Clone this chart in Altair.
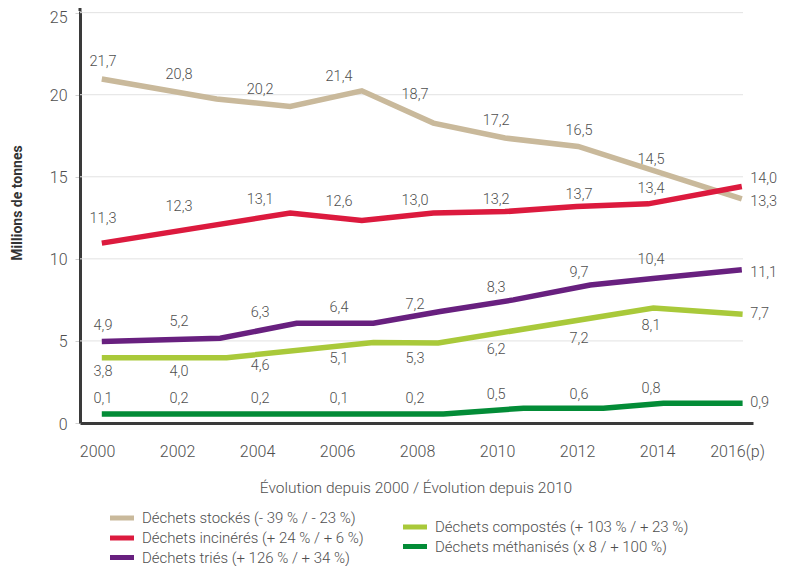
import altair as alt
import pandas as pd

# ---------------- data ----------------
series = [
    "Déchets stockés (- 39 % / - 23 %)",
    "Déchets incinérés (+ 24 % / + 6 %)",
    "Déchets triés (+ 126 % / + 34 %)",
    "Déchets compostés (+ 103 % / + 23 %)",
    "Déchets méthanisés (x 8 / + 100 %)",
]
colors = ["#c9b99b", "#dc1a3e", "#68207f", "#a9c93a", "#038c37"]

# line vertices (x in years, y in millions of tonnes)
stockes_x = [2000.12, 2002.99, 2004.83, 2006.62, 2008.41, 2010.2, 2012.03, 2016.12]
stockes_y = [20.96, 19.74, 19.29, 20.24, 18.27, 17.36, 16.85, 13.66]
incin_x = [2000.12, 2004.83, 2006.62, 2008.41, 2010.2, 2011.99, 2013.78, 2016.12]
incin_y = [10.96, 12.79, 12.34, 12.79, 12.88, 13.19, 13.35, 14.41]
tries_x = [2000.12, 2003.08, 2004.99, 2006.91, 2008.58, 2010.41, 2012.33, 2013.9, 2016.12]
tries_y = [4.96, 5.16, 6.08, 6.08, 6.79, 7.5, 8.41, 8.8, 9.33]
compost_x = [2000.12, 2003.24, 2006.91, 2008.53, 2013.91, 2016.14]
compost_y = [3.98, 3.98, 4.9, 4.88, 7.0, 6.63]
metha_x = [2000.12, 2008.66, 2010.66, 2012.66, 2014.16, 2016.14]
metha_y = [0.55, 0.55, 0.9, 0.9, 1.2, 1.2]

# value labels
label_x = [2000.15, 2002.05, 2004.08, 2006.05, 2007.95, 2009.98, 2012.05, 2013.85, 2016.33]
stockes_vals = [21.7, 20.8, 20.2, 21.4, 18.7, 17.2, 16.5, 14.5, 13.3]
incin_vals = [11.3, 12.3, 13.1, 12.6, 13.0, 13.2, 13.7, 13.4, 14.0]
tries_vals = [4.9, 5.2, 6.3, 6.4, 7.2, 8.3, 9.7, 10.4, 11.1]
compost_vals = [3.8, 4.0, 4.6, 5.1, 5.3, 6.2, 7.2, 8.1, 7.7]
metha_vals = [0.1, 0.2, 0.2, 0.1, 0.2, 0.5, 0.6, 0.8, 0.9]

stockes_lab = [21.99, 21.22, 20.30, 21.05, 19.96, 18.37, 17.76, 16.04, 13.49]
incin_lab = [12.44, 13.15, 13.60, 13.49, 13.54, 13.60, 13.90, 14.25, 14.86]
tries_lab = [5.93, 6.18, 6.69, 6.99, 7.20, 8.21, 9.13, 9.94, 9.16]
compost_lab = [3.09, 3.13, 3.49, 3.90, 3.90, 4.45, 5.12, 5.91, 6.63]
metha_lab = [1.46, 1.46, 1.46, 1.46, 1.46, 1.71, 1.71, 2.05, 1.20]

x_ticks = [2000, 2002, 2004, 2006, 2008, 2010, 2012, 2014, 2016]
y_ticks = [0, 5, 10, 15, 20, 25]
grid_vals = [5, 10, 15, 20, 25]
y_title = "Millions de tonnes"
x_title = "Évolution depuis 2000 / Évolution depuis 2010"

# ---------------- chart ----------------
FONT = "Roboto"
TXT = "#4f4f4f"
W, H = 673, 412

xscale = alt.Scale(domain=[1999.575, 2016.4], nice=False, zero=False)
yscale = alt.Scale(domain=[0, 25.1], nice=False, zero=True)

xaxis = alt.Axis(
    values=x_ticks, title=None, grid=False, ticks=False,
    labelExpr="datum.value == 2016 ? '2016(p)' : '' + datum.value",
    domainColor="#3a3a3a", domainWidth=3, labelFont=FONT, labelFontSize=16,
    labelFontWeight=300, labelColor=TXT, labelPadding=20,
)
yaxis = alt.Axis(
    values=y_ticks, title=None, grid=False, tickColor="#d0d0d0", tickSize=5,
    domainColor="#3a3a3a", domainWidth=3, labelFont=FONT, labelFontSize=16,
    labelFontWeight=300, labelColor=TXT, labelPadding=8,
    labelOffset={"condition": {"test": "datum.value == 25", "value": 5}, "value": 1},
)


def X(f):
    return alt.X(f"{f}:Q", scale=xscale, axis=xaxis)


def Y(f):
    return alt.Y(f"{f}:Q", scale=yscale, axis=yaxis)


layers = []

grid = alt.Chart(pd.DataFrame({"y": grid_vals})).mark_rule(
    color="#e2e2e2", strokeWidth=1
).encode(x=alt.value(0), x2=alt.value(663), y=Y("y"))
layers.append(grid)

# small upward extension of the y axis line, as in the reference
layers.append(
    alt.Chart(pd.DataFrame({"t": [0]})).mark_rule(color="#3a3a3a", strokeWidth=3)
    .encode(x=alt.value(0), y=alt.value(-4), y2=alt.value(0))
)

line_data = [
    (stockes_x, stockes_y), (incin_x, incin_y), (tries_x, tries_y),
    (compost_x, compost_y), (metha_x, metha_y),
]
label_data = [
    (stockes_vals, stockes_lab), (incin_vals, incin_lab), (tries_vals, tries_lab),
    (compost_vals, compost_lab), (metha_vals, metha_lab),
]

for i, (xs, ys) in enumerate(line_data):
    df = pd.DataFrame({"x": xs, "y": ys, "o": list(range(len(xs)))})
    layers.append(
        alt.Chart(df).mark_line(color=colors[i], strokeWidth=5.5, strokeCap="butt")
        .encode(x=X("x"), y=Y("y"), order="o:Q")
    )

for i, (vals, labs) in enumerate(label_data):
    txt = [f"{v:.1f}".replace(".", ",") for v in vals]
    df = pd.DataFrame({"x": label_x, "y": labs, "t": txt})
    layers.append(
        alt.Chart(df.iloc[:-1]).mark_text(
            font=FONT, fontSize=14.5, fontWeight=300, color=TXT,
            baseline="middle", align="center"
        ).encode(x=X("x"), y=Y("y"), text="t:N")
    )
    layers.append(
        alt.Chart(df.iloc[-1:]).mark_text(
            font=FONT, fontSize=14.5, fontWeight=300, color=TXT,
            baseline="middle", align="left"
        ).encode(x=X("x"), y=Y("y"), text="t:N")
    )

# axis titles
layers.append(
    alt.Chart(pd.DataFrame({"t": [y_title]})).mark_text(
        font=FONT, fontSize=14, fontWeight="bold", color="#333333", angle=270,
        baseline="middle", align="center"
    ).encode(x=alt.value(-62), y=alt.value(192), text="t:N")
)
layers.append(
    alt.Chart(pd.DataFrame({"t": [x_title]})).mark_text(
        font=FONT, fontSize=15.5, fontWeight=300, color=TXT,
        baseline="middle", align="center"
    ).encode(x=alt.value(336), y=alt.value(477), text="t:N")
)

# legend (two columns: 3 items then 2 items)
leg_pos = [(30, 507), (30, 527), (30, 546.5), (323, 516), (323, 535.5)]
for i, name in enumerate(series):
    lx, ly = leg_pos[i]
    d = pd.DataFrame({"t": [name]})
    layers.append(
        alt.Chart(d).mark_rule(color=colors[i], strokeWidth=5)
        .encode(x=alt.value(lx), x2=alt.value(lx + 24), y=alt.value(ly))
    )
    layers.append(
        alt.Chart(d).mark_text(
            font=FONT, fontSize=15, fontWeight=300, color=TXT,
            baseline="middle", align="left"
        ).encode(x=alt.value(lx + 32), y=alt.value(ly), text="t:N")
    )

chart = alt.layer(*layers).properties(
    width=W, height=H,
    padding={"left": 72, "top": 3, "right": 30, "bottom": 143},
    autosize=alt.AutoSizeParams(type="none"),
    background="white",
).configure_view(stroke=None)

chart.save("out.html", embed_options={"renderer": "svg", "actions": False})
